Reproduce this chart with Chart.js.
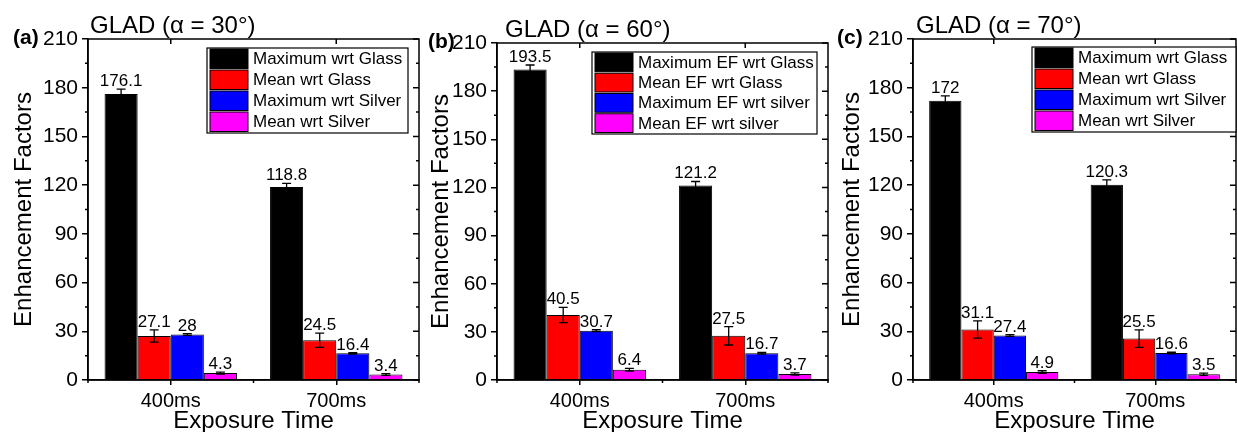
<!DOCTYPE html>
<html lang="en">
<head>
<meta charset="UTF-8">
<title>GLAD Enhancement Factors</title>
<script src="https://cdn.jsdelivr.net/npm/chart.js"></script>
<style>
  body { margin: 0; background: #fff; width: 1237px; height: 432px; overflow: hidden; position: relative; }
  .panel { position: absolute; top: 0; }
</style>
</head>
<body>
<div class="panel" style="left:0"><canvas id="chartA" width="420" height="432"></canvas></div>
<div class="panel" style="left:420px"><canvas id="chartB" width="410" height="432"></canvas></div>
<div class="panel" style="left:830px"><canvas id="chartC" width="407" height="432"></canvas></div>
<script>
const exposureTimes = ['400ms', '700ms'];
const yTicks = [0, 30, 60, 90, 120, 150, 180, 210];
const namesWrt = ['Maximum wrt Glass', 'Mean wrt Glass', 'Maximum wrt Silver', 'Mean wrt Silver'];
const namesEF = ['Maximum EF wrt Glass', 'Mean EF wrt Glass', 'Maximum EF wrt silver', 'Mean EF wrt silver'];
const barColors = ['#000000', '#ff0000', '#0000ff', '#ff00ff'];

// alpha = 30
const maxGlass30 = [176.1, 118.8];
const meanGlass30 = [27.1, 24.5];
const maxSilver30 = [28, 16.4];
const meanSilver30 = [4.3, 3.4];
const maxGlass30Err = [3, 2.3];
const meanGlass30Err = [3.8, 4.4];
const maxSilver30Err = [0.5, 0.4];
const meanSilver30Err = [0.6, 0.5];

// alpha = 60
const maxGlass60 = [193.5, 121.2];
const meanGlass60 = [40.5, 27.5];
const maxSilver60 = [30.7, 16.7];
const meanSilver60 = [6.4, 3.7];
const maxGlass60Err = [2.8, 2.5];
const meanGlass60Err = [4.7, 5.7];
const maxSilver60Err = [0.6, 0.5];
const meanSilver60Err = [0.8, 0.7];

// alpha = 70
const maxGlass70 = [172, 120.3];
const meanGlass70 = [31.1, 25.5];
const maxSilver70 = [27.4, 16.6];
const meanSilver70 = [4.9, 3.5];
const maxGlass70Err = [3, 3];
const meanGlass70Err = [5.3, 5.4];
const maxSilver70Err = [0.5, 0.5];
const meanSilver70Err = [0.8, 0.7];

const FONT = '"Liberation Sans", Arial, sans-serif';
Chart.defaults.font.family = FONT;
Chart.defaults.color = '#000';

const panels = [
    { id: 'chartA', letter: '(a)', title: 'GLAD (\u03b1 = 30\u00b0)', names: namesWrt,
      values: [maxGlass30, meanGlass30, maxSilver30, meanSilver30],
      errors: [maxGlass30Err, meanGlass30Err, maxSilver30Err, meanSilver30Err],
      yWidth: 88, top: 39, right: 1, yTitlePad: 10,
      titleX: 90, titleY: 33, letterX: 13, letterY: 44,
      legend: { x: 207, y: 48, w: 201, row: 21 } },
    { id: 'chartB', letter: '(b)', title: 'GLAD (\u03b1 = 60\u00b0)', names: namesEF,
      values: [maxGlass60, meanGlass60, maxSilver60, meanSilver60],
      errors: [maxGlass60Err, meanGlass60Err, maxSilver60Err, meanSilver60Err],
      yWidth: 77, top: 43, right: 2, yTitlePad: 6.5,
      titleX: 85, titleY: 37, letterX: 8, letterY: 48,
      legend: { x: 172, y: 52, w: 225, row: 20.25 } },
    { id: 'chartC', letter: '(c)', title: 'GLAD (\u03b1 = 70\u00b0)', names: namesWrt,
      values: [maxGlass70, meanGlass70, maxSilver70, meanSilver70],
      errors: [maxGlass70Err, meanGlass70Err, maxSilver70Err, meanSilver70Err],
      yWidth: 83, top: 39, right: 1, yTitlePad: 7.5,
      titleX: 86, titleY: 33, letterX: 7, letterY: 44,
      legend: { x: 202, y: 47, w: 204, row: 21 } }
];

function makeFrame(p) {
    return {
        id: 'frame',
        afterDatasetsDraw(chart) {
            const { ctx, chartArea: a, scales: { x, y } } = chart;
            ctx.save();
            ctx.strokeStyle = '#000';
            ctx.fillStyle = '#000';

            // error bars
            ctx.lineWidth = 1.3;
            p.values.forEach((vals, i) => {
                const meta = chart.getDatasetMeta(i);
                vals.forEach((v, j) => {
                    const bx = meta.data[j].x;
                    const e = p.errors[i][j];
                    const yt = y.getPixelForValue(v + e);
                    const yb = y.getPixelForValue(v - e);
                    ctx.beginPath();
                    ctx.moveTo(bx, yt); ctx.lineTo(bx, yb);
                    ctx.moveTo(bx - 4.5, yt); ctx.lineTo(bx + 4.5, yt);
                    ctx.moveTo(bx - 4.5, yb); ctx.lineTo(bx + 4.5, yb);
                    ctx.stroke();
                });
            });

            // frame box
            ctx.lineWidth = 1.5;
            ctx.strokeRect(a.left, a.top, a.right - a.left, a.bottom - a.top);

            // minor and mirror ticks
            ctx.beginPath();
            for (let k = 0; k < yTicks.length; k++) {
                const py = y.getPixelForValue(yTicks[k]);
                ctx.moveTo(a.right, py); ctx.lineTo(a.right - 6, py);
                if (k < yTicks.length - 1) {
                    const pm = y.getPixelForValue((yTicks[k] + yTicks[k + 1]) / 2);
                    ctx.moveTo(a.left, pm); ctx.lineTo(a.left - 3, pm);
                    ctx.moveTo(a.right, pm); ctx.lineTo(a.right - 3, pm);
                }
            }
            exposureTimes.forEach((t, j) => {
                const px = x.getPixelForValue(j);
                ctx.moveTo(px, a.top); ctx.lineTo(px, a.top + 5);
            });
            for (let j = 0; j <= exposureTimes.length; j++) {
                const px = x.getPixelForValue(j - 0.5);
                ctx.moveTo(px, a.bottom); ctx.lineTo(px, a.bottom + 3);
            }
            ctx.stroke();

            // value labels
            ctx.font = '17px ' + FONT;
            ctx.textAlign = 'center';
            ctx.textBaseline = 'alphabetic';
            p.values.forEach((vals, i) => {
                const meta = chart.getDatasetMeta(i);
                vals.forEach((v, j) => {
                    const yt = y.getPixelForValue(v + p.errors[i][j]);
                    ctx.fillText(String(v), meta.data[j].x, yt - 3);
                });
            });

            // legend
            const L = p.legend;
            const h = L.row * chart.data.datasets.length;
            ctx.fillStyle = '#fff';
            ctx.fillRect(L.x, L.y, L.w, h + 1);
            ctx.lineWidth = 1.2;
            ctx.strokeRect(L.x, L.y, L.w, h + 1);
            ctx.font = '17px ' + FONT;
            ctx.textAlign = 'left';
            ctx.textBaseline = 'middle';
            chart.data.datasets.forEach((ds, i) => {
                const sy = L.y + 1 + i * L.row;
                ctx.fillStyle = ds.backgroundColor;
                ctx.fillRect(L.x + 3, sy, 38, L.row - 1.5);
                ctx.lineWidth = 1;
                ctx.strokeRect(L.x + 3, sy, 38, L.row - 1.5);
                ctx.fillStyle = '#000';
                ctx.fillText(ds.label, L.x + 46, sy + L.row / 2);
            });

            // title and panel letter
            ctx.textBaseline = 'alphabetic';
            ctx.font = '24px ' + FONT;
            ctx.fillText(p.title, p.titleX, p.titleY);
            ctx.font = 'bold 21px ' + FONT;
            ctx.fillText(p.letter, p.letterX, p.letterY);
            ctx.restore();
        }
    };
}

panels.forEach(p => {
    new Chart(document.getElementById(p.id), {
        type: 'bar',
        data: {
            labels: exposureTimes,
            datasets: p.values.map((vals, i) => ({
                label: p.names[i],
                data: vals,
                backgroundColor: barColors[i],
                borderColor: '#000',
                borderWidth: 1,
                borderSkipped: 'start',
                categoryPercentage: 0.8,
                barPercentage: 1.0
            }))
        },
        options: {
            responsive: false,
            animation: false,
            layout: { padding: { top: p.top, right: p.right, left: 0, bottom: 0 } },
            plugins: { legend: { display: false }, tooltip: { enabled: false } },
            scales: {
                x: {
                    grid: { offset: false, drawOnChartArea: false, tickLength: 5, color: '#000', lineWidth: 1.5 },
                    border: { color: '#000', width: 1.5 },
                    ticks: { color: '#000', font: { size: 20 }, padding: 4, maxRotation: 0 },
                    title: { display: true, text: 'Exposure Time', color: '#000', font: { size: 24 }, padding: { top: 0, bottom: -4 } },
                    afterFit: s => { s.height = 52; }
                },
                y: {
                    min: 0,
                    max: 210,
                    afterBuildTicks: s => { s.ticks = yTicks.map(v => ({ value: v })); },
                    grid: { drawOnChartArea: false, tickLength: 6, color: '#000', lineWidth: 1.5 },
                    border: { color: '#000', width: 1.5 },
                    ticks: { color: '#000', font: { size: 21 }, padding: 4 },
                    title: { display: true, text: 'Enhancement Factors', color: '#000', font: { size: 24 }, padding: { top: p.yTitlePad, bottom: 0 } },
                    afterFit: s => { s.width = p.yWidth; }
                }
            }
        },
        plugins: [makeFrame(p)]
    });
});
</script>
</body>
</html>
